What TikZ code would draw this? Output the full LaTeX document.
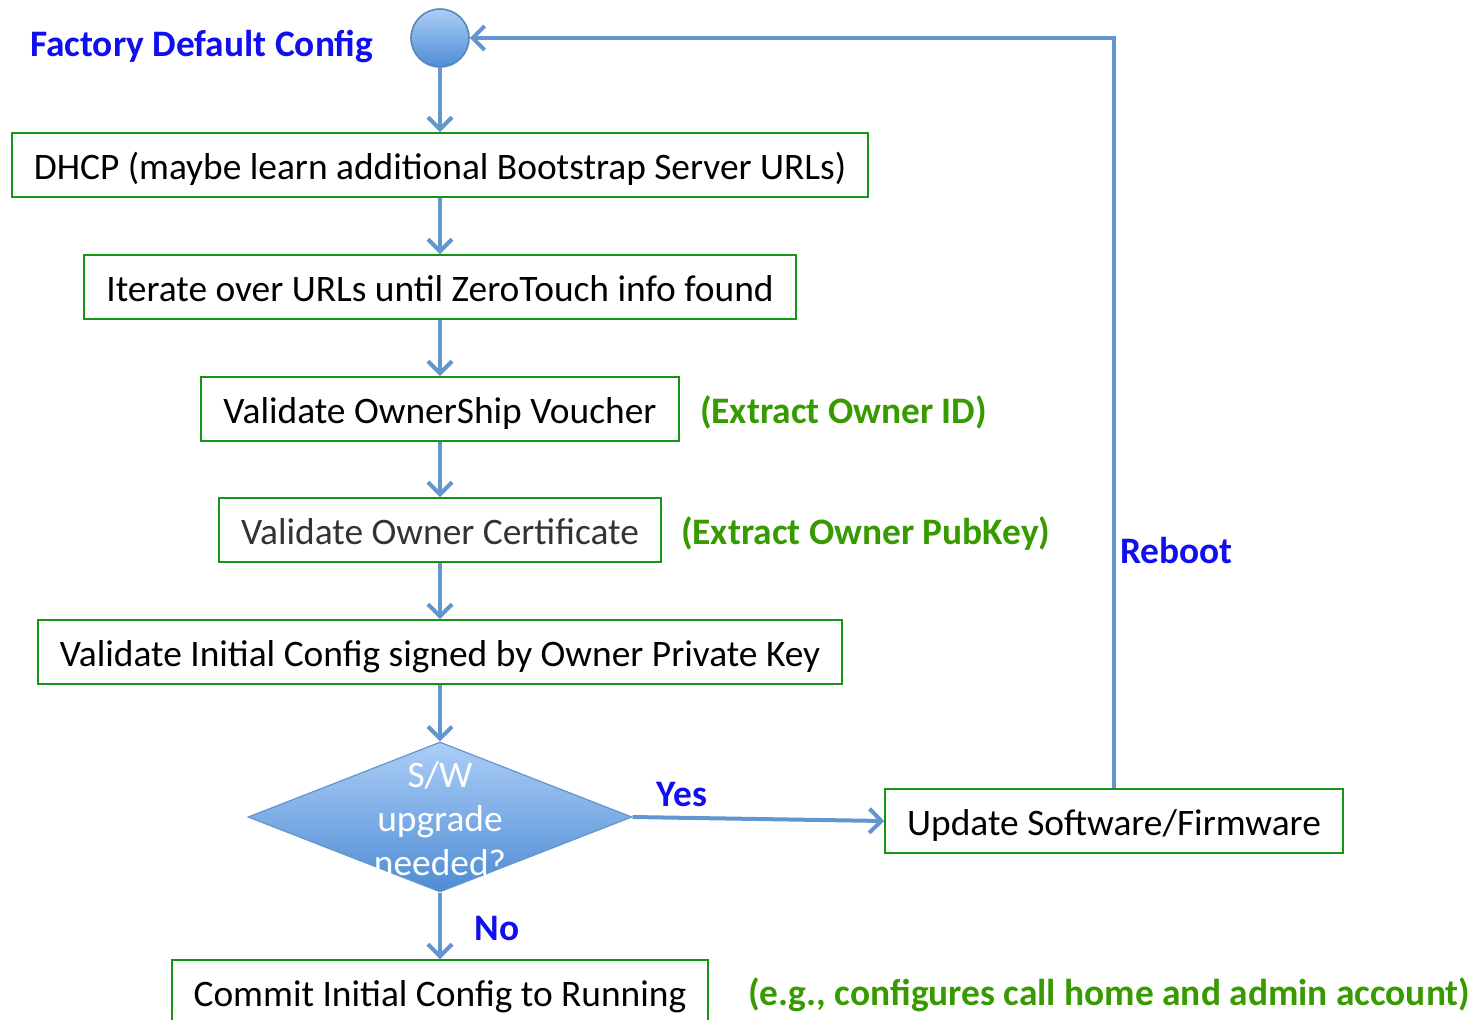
\documentclass[tikz,border=0pt]{standalone}
\usepackage{fontspec}
\setmainfont{Carlito}
\usetikzlibrary{arrows.meta,shapes.geometric,positioning}
\definecolor{flowblue}{RGB}{99,149,206}
\definecolor{boxgreen}{RGB}{20,150,20}
\definecolor{notegreen}{RGB}{55,155,0}
\definecolor{lblblue}{RGB}{15,15,240}
\definecolor{shadetop}{RGB}{172,206,247}
\definecolor{shadebot}{RGB}{78,140,212}

\begin{document}
\begin{tikzpicture}[x=0.5pt,y=-0.5pt,
	box/.style={draw=boxgreen,line width=1pt,minimum height=32pt,inner xsep=11pt,inner ysep=0pt,text height=16pt,text depth=2pt,font=\fontsize{18.7}{22}\selectfont},
	note/.style={text=notegreen,font=\fontsize{18.7}{22}\selectfont\bfseries},
	lbl/.style={text=lblblue,font=\fontsize{18.7}{22}\selectfont\bfseries},
	flow/.style={draw=flowblue,line width=2pt,-{Straight Barb[length=6pt,width=12pt,line width=2pt]}}]
	\useasboundingbox (0,0) rectangle (1481,1019);
	\clip (0,0) rectangle (1481,1019);
	% start point
	\node[circle,draw=flowblue!90!black,line width=0.8pt,top color=shadetop,bottom color=shadebot,minimum size=29pt,inner sep=0pt] (start) at (440,38) {};
	\node[lbl,anchor=west] (fdc) at (23,47) {Factory Default Config};
	% main chain
	\node[box] (dhcp) at (440,165) {DHCP (maybe learn additional Bootstrap Server URLs)};
	\node[box] (iter) at (440,287) {Iterate over URLs until ZeroTouch info found};
	\node[box] (voucher) at (440,409) {Validate OwnerShip Voucher};
	\node[note,anchor=west] (ownerid) at (693,412) {(Extract Owner ID)};
	\node[box,text=black!80] (cert) at (440,530) {Validate Owner Certificate};
	\node[note,anchor=west] (pubkey) at (674,534) {(Extract Owner PubKey)};
	\node[box] (initcfg) at (440,652) {Validate Initial Config signed by Owner Private Key};
	\node[diamond,draw=flowblue,line width=0.6pt,top color=shadetop,bottom color=shadebot,minimum width=192pt,minimum height=75pt,inner sep=0pt,
		label={[text=white,align=center,font=\fontsize{18.7}{22}\selectfont,yshift=-1pt]center:S/W\\upgrade\\needed?}] (upg) at (440,817) {};
	\node[box] (swfw) at (1114,821) {Update Software/Firmware};
	\node[box] (commit) at (440,992) {Commit Initial Config to Running};
	\node[note,anchor=west] (eg) at (741,995) {(e.g., configures call home and admin account)};
	% labels
	\node[lbl] (yes) at (682,794) {Yes};
	\node[lbl] (no) at (497,928) {No};
	\node[lbl,anchor=west] (reboot) at (1113,551) {Reboot};
	% connectors
	\draw[flow] (start) -- (dhcp);
	\draw[flow] (dhcp) -- (iter);
	\draw[flow] (iter) -- (voucher);
	\draw[flow] (voucher) -- (cert);
	\draw[flow] (cert) -- (initcfg);
	\draw[flow] (initcfg) -- (upg);
	\draw[flow] (upg.east) -- (swfw.west);
	\draw[flow] (upg.south) -- (commit.north);
	\draw[flow] (swfw.north) |- (start.east);
\end{tikzpicture}
\end{document}
